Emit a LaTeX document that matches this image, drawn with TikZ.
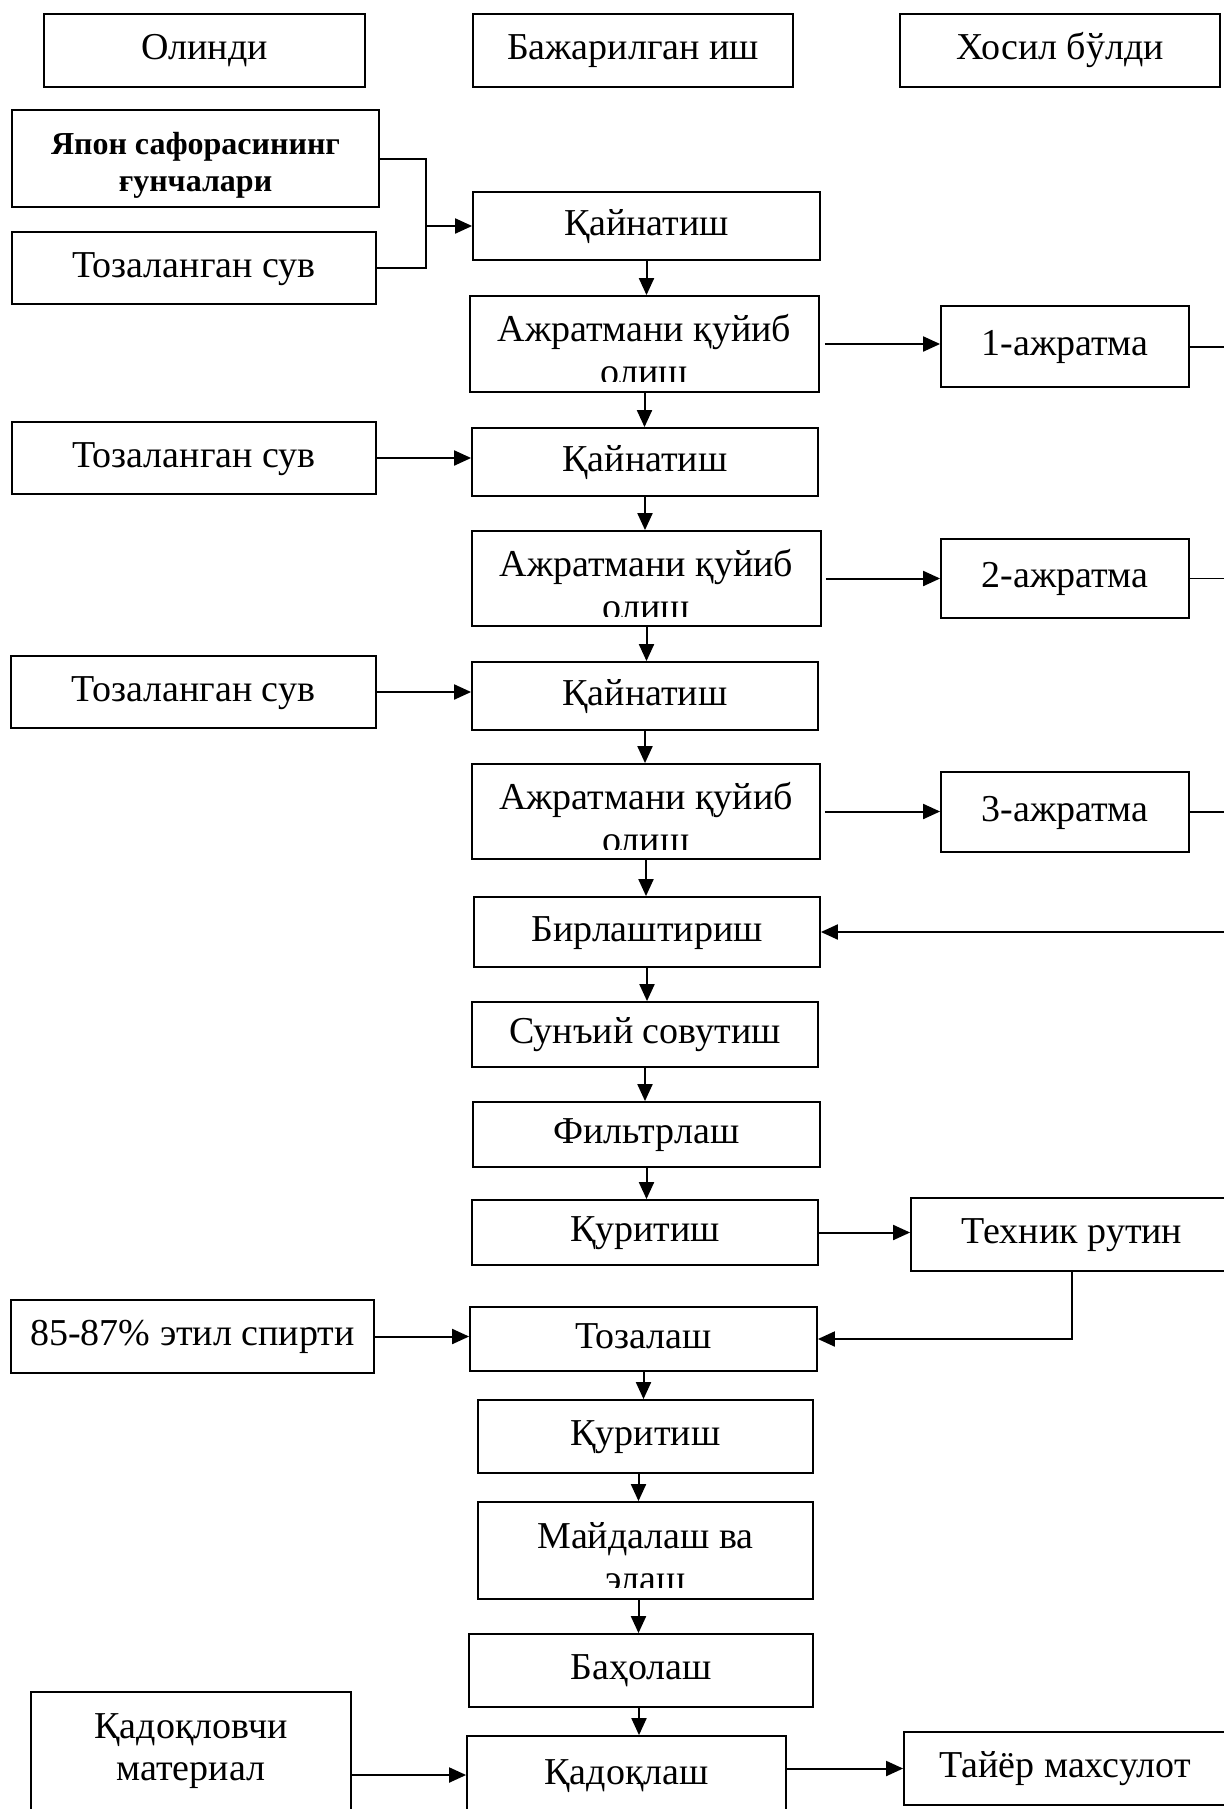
\documentclass[tikz,border=0pt]{standalone}
\usepackage{fontspec}
\setmainfont{Liberation Serif}
\usetikzlibrary{arrows.meta,calc}
\newcommand\fs{\fontsize{19}{22}\selectfont}
\newcommand\fsb{\fontsize{16}{18.5}\selectfont\bfseries}
\newcommand\bx[6]{\node[box,minimum width={(#4-#2)*0.5pt},minimum height={(#5-#3)*0.5pt}] (#1) at ({(#2+#4)/2},{(#3+#5)/2}) {#6};}
\begin{document}
\begin{tikzpicture}[x=0.5pt,y=-0.5pt,
  box/.style={draw,line width=0.9pt,inner sep=0pt,text height=13pt,text depth=4pt,font=\fs},
  txt/.style={inner sep=0pt,font=\fs,anchor=base},
  ln/.style={draw,line width=1pt},
  arr/.style={draw,line width=1pt,-{Triangle[length=8.5pt,width=7.5pt]}}]
\useasboundingbox (0,0) rectangle (1224,1809);
\fill[white] (0,0) rectangle (1224,1809);
% header
\bx{h1}{44}{14}{365}{87}{Олинди}
\bx{h2}{473}{14}{793}{87}{Бажарилган иш}
\bx{h3}{900}{14}{1220}{87}{Хосил бўлди}
% left inputs
\bx{src}{12}{110}{379}{207}{}
\node[txt,font=\fsb] (srct1) at (195.5,154.5) {Япон сафорасининг};
\node[txt,font=\fsb] (srct2) at (195.5,191.5) {ғунчалари};
\bx{w1}{12}{232}{376}{304}{Тозаланган сув}
\bx{w2}{12}{422}{376}{494}{Тозаланган сув}
\bx{w3}{11}{656}{376}{728}{Тозаланган сув}
\bx{eth}{11}{1300}{374}{1373}{85-87\% этил спирти}
\bx{pm}{31}{1692}{351}{1830}{}
\node[txt] (pmt1) at (191,1738) {Қадоқловчи};
\node[txt] (pmt2) at (191,1780) {материал};
% main column
\bx{k1}{473}{192}{820}{260}{Қайнатиш}
\bx{a1}{470}{296}{819}{392}{}
\bx{k2}{472}{428}{818}{496}{Қайнатиш}
\bx{a2}{472}{531}{821}{626}{}
\bx{k3}{472}{662}{818}{730}{Қайнатиш}
\bx{a3}{472}{764}{820}{859}{}
\bx{bir}{474}{897}{820}{967}{Бирлаштириш}
\bx{sun}{472}{1002}{818}{1067}{Сунъий совутиш}
\bx{fil}{473}{1102}{820}{1167}{Фильтрлаш}
\bx{q1}{472}{1200}{818}{1265}{Қуритиш}
\bx{toz}{470}{1307}{817}{1371}{Тозалаш}
\bx{q2}{478}{1400}{813}{1473}{Қуритиш}
\bx{may}{478}{1502}{813}{1599}{}
\bx{bah}{469}{1634}{813}{1707}{Баҳолаш}
\bx{qd}{467}{1736}{786}{1814}{Қадоқлаш}
% clipped two-line texts
\foreach \n in {a1,a2,a3}{
  \begin{scope}
  \clip ([yshift=-1pt]\n.north west) rectangle ([yshift=-43pt]\n.north east);
  \node[txt] (\n t1) at ([yshift=-23pt]\n.north) {Ажратмани қуйиб};
  \node[txt] (\n t2) at ([yshift=-44.75pt]\n.north) {олиш};
  \end{scope}
}
\begin{scope}
  \clip ([yshift=-1pt]may.north west) rectangle ([yshift=-43pt]may.north east);
  \node[txt] (mayt1) at ([yshift=-23.5pt]may.north) {Майдалаш ва};
  \node[txt] (mayt2) at ([yshift=-45pt]may.north) {элаш};
\end{scope}
% right outputs
\bx{r1}{941}{306}{1189}{387}{1-ажратма}
\bx{r2}{941}{539}{1189}{618}{2-ажратма}
\bx{r3}{941}{772}{1189}{852}{3-ажратма}
\bx{tex}{911}{1198}{1233}{1271}{Техник рутин}
\bx{ty}{904}{1732}{1226}{1805}{Тайёр махсулот}
% connectors
\draw[ln] (src.east) -| ($(w1.east)+(49,0)$) -- (w1.east);
\coordinate (jn) at ($(k1.west)+(-45,0)$);
\draw[arr] (jn) -- (k1.west);
\draw[arr] (k1.south) -- (k1.south |- a1.north);
\draw[arr] (a1.south) -- (a1.south |- k2.north);
\draw[arr] (k2.south) -- (k2.south |- a2.north);
\draw[arr] (a2.south) -- (a2.south |- k3.north);
\draw[arr] (k3.south) -- (k3.south |- a3.north);
\draw[arr] (a3.south) -- (a3.south |- bir.north);
\draw[arr] (bir.south) -- (bir.south |- sun.north);
\draw[arr] (sun.south) -- (sun.south |- fil.north);
\draw[arr] (fil.south) -- (fil.south |- q1.north);
\draw[arr] (toz.south) -- (toz.south |- q2.north);
\draw[arr] ([xshift=-3.5pt]q2.south) -- ([xshift=-3.5pt]q2.south |- may.north);
\draw[arr] ([xshift=-3.5pt]may.south) -- ([xshift=-3.5pt]may.south |- bah.north);
\draw[arr] ([xshift=-1pt]bah.south) -- ([xshift=-1pt]bah.south |- qd.north);
\draw[arr] (w2.east) -- (w2.east -| k2.west);
\draw[arr] (w3.east) -- (w3.east -| k3.west);
\draw[arr] ([xshift=2.5pt]a1.east) -- (a1.east -| r1.west);
\draw[arr] ([xshift=2pt]a2.east) -- (a2.east -| r2.west);
\draw[arr] ([xshift=2pt]a3.east) -- (a3.east -| r3.west);
\coordinate (bus) at (1250,932);
\draw[ln] (r1.east) -| (bus);
\draw[ln,line width=0.6pt] (r2.east) -| (bus);
\draw[ln,line width=0.6pt] (r3.east) -| (bus);
\draw[arr] (bus) -- (bus -| bir.east);
\draw[arr] (q1.east) -- (q1.east -| tex.west);
\draw[arr] (tex.south) |- (toz.east);
\draw[arr] (eth.east) -- (eth.east -| toz.west);
\draw[arr] (qd.west -| pm.east) -- (qd.west);
\draw[arr] (qd.east |- ty.west) -- (ty.west);
\end{tikzpicture}
\end{document}
